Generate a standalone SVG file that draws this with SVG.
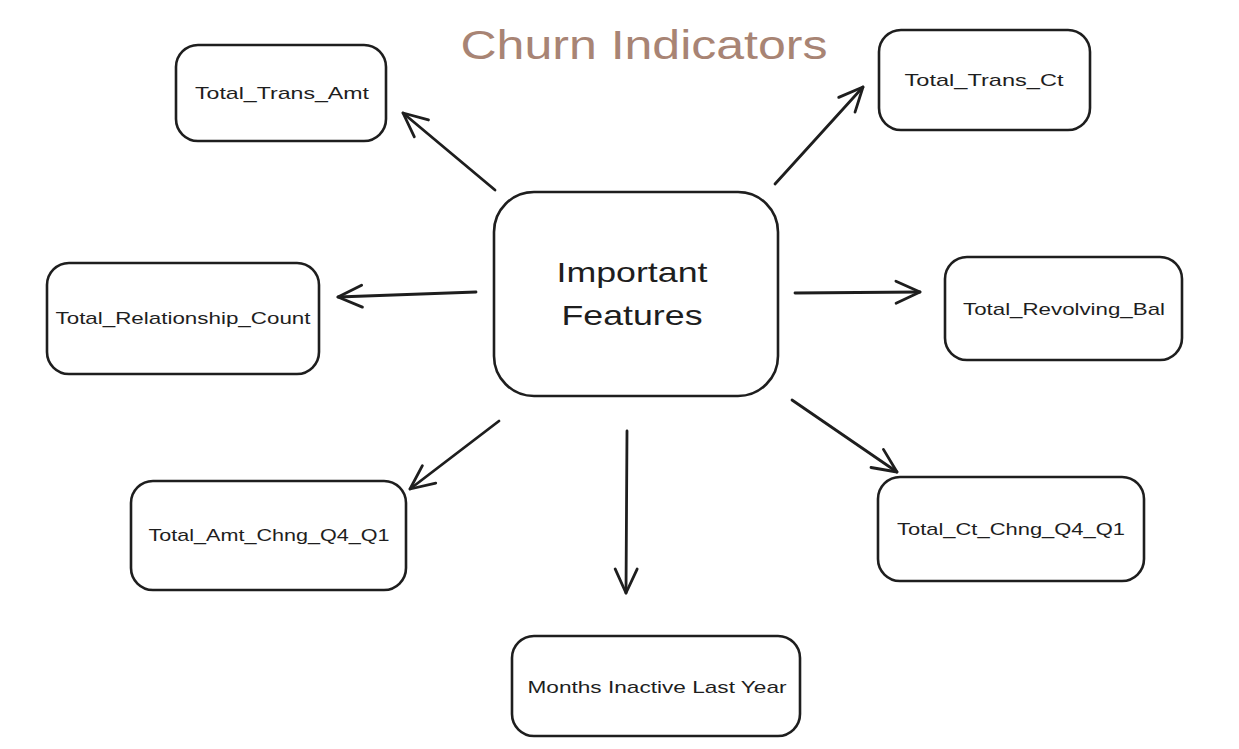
<svg xmlns="http://www.w3.org/2000/svg" width="1239" height="749" viewBox="0 0 1239 749">
<defs>
<style>
.box{fill:#ffffff;stroke:#1e1e1e;stroke-width:2.6}
.lbl{font-family:"Liberation Sans",Arial,sans-serif;font-size:17px;fill:#1e1e1e;text-anchor:middle;dominant-baseline:central}
.big{font-size:28px}
.title{font-family:"Liberation Sans",Arial,sans-serif;font-size:40px;fill:#a88474;text-anchor:middle;dominant-baseline:central}
.arr{fill:none;stroke:#1e1e1e;stroke-width:2.8;stroke-linecap:round;marker-end:url(#ah)}
</style>
<marker id="ah" viewBox="0 0 28 28" refX="26" refY="14" markerWidth="28" markerHeight="28" markerUnits="userSpaceOnUse" orient="auto">
<path d="M2,3 L26,14 L2,25" fill="none" stroke="#1e1e1e" stroke-width="2.8" stroke-linecap="round" stroke-linejoin="round"/>
</marker>
</defs>
<rect width="1239" height="749" fill="#ffffff"/>
<text class="title" x="644" y="45" textLength="367" lengthAdjust="spacingAndGlyphs">Churn Indicators</text>
<g id="connectors">
<line class="arr" x1="495" y1="190" x2="403" y2="113"/>
<line class="arr" x1="775" y1="184" x2="863" y2="87"/>
<line class="arr" x1="476" y1="292" x2="338" y2="297"/>
<line class="arr" x1="795" y1="293" x2="920" y2="292"/>
<line class="arr" x1="499" y1="421" x2="410" y2="489"/>
<line class="arr" x1="627" y1="431" x2="626" y2="593"/>
<line class="arr" x1="792" y1="400" x2="897" y2="472"/>
</g>
<g id="important-features">
<rect class="box" x="494" y="192" width="284" height="204" rx="40"/>
<text class="lbl big" x="632" y="272" textLength="151" lengthAdjust="spacingAndGlyphs">Important</text>
<text class="lbl big" x="632" y="315" textLength="141" lengthAdjust="spacingAndGlyphs">Features</text>
</g>
<g id="total-trans-amt">
<rect class="box" x="176" y="45" width="210" height="96" rx="22"/>
<text class="lbl" x="282" y="93" textLength="174" lengthAdjust="spacingAndGlyphs">Total_Trans_Amt</text>
</g>
<g id="total-trans-ct">
<rect class="box" x="879" y="30" width="211" height="100" rx="22"/>
<text class="lbl" x="984" y="80" textLength="159" lengthAdjust="spacingAndGlyphs">Total_Trans_Ct</text>
</g>
<g id="total-relationship-count">
<rect class="box" x="47" y="263" width="272" height="111" rx="22"/>
<text class="lbl" x="183" y="318" textLength="255" lengthAdjust="spacingAndGlyphs">Total_Relationship_Count</text>
</g>
<g id="total-revolving-bal">
<rect class="box" x="945" y="257" width="237" height="103" rx="22"/>
<text class="lbl" x="1064" y="309" textLength="202" lengthAdjust="spacingAndGlyphs">Total_Revolving_Bal</text>
</g>
<g id="total-amt-chng">
<rect class="box" x="131" y="481" width="275" height="109" rx="22"/>
<text class="lbl" x="269" y="535" textLength="241" lengthAdjust="spacingAndGlyphs">Total_Amt_Chng_Q4_Q1</text>
</g>
<g id="total-ct-chng">
<rect class="box" x="878" y="477" width="266" height="104" rx="22"/>
<text class="lbl" x="1011" y="529" textLength="228" lengthAdjust="spacingAndGlyphs">Total_Ct_Chng_Q4_Q1</text>
</g>
<g id="months-inactive">
<rect class="box" x="512" y="636" width="288" height="100" rx="22"/>
<text class="lbl" x="657" y="687" textLength="259" lengthAdjust="spacingAndGlyphs">Months Inactive Last Year</text>
</g>
</svg>
